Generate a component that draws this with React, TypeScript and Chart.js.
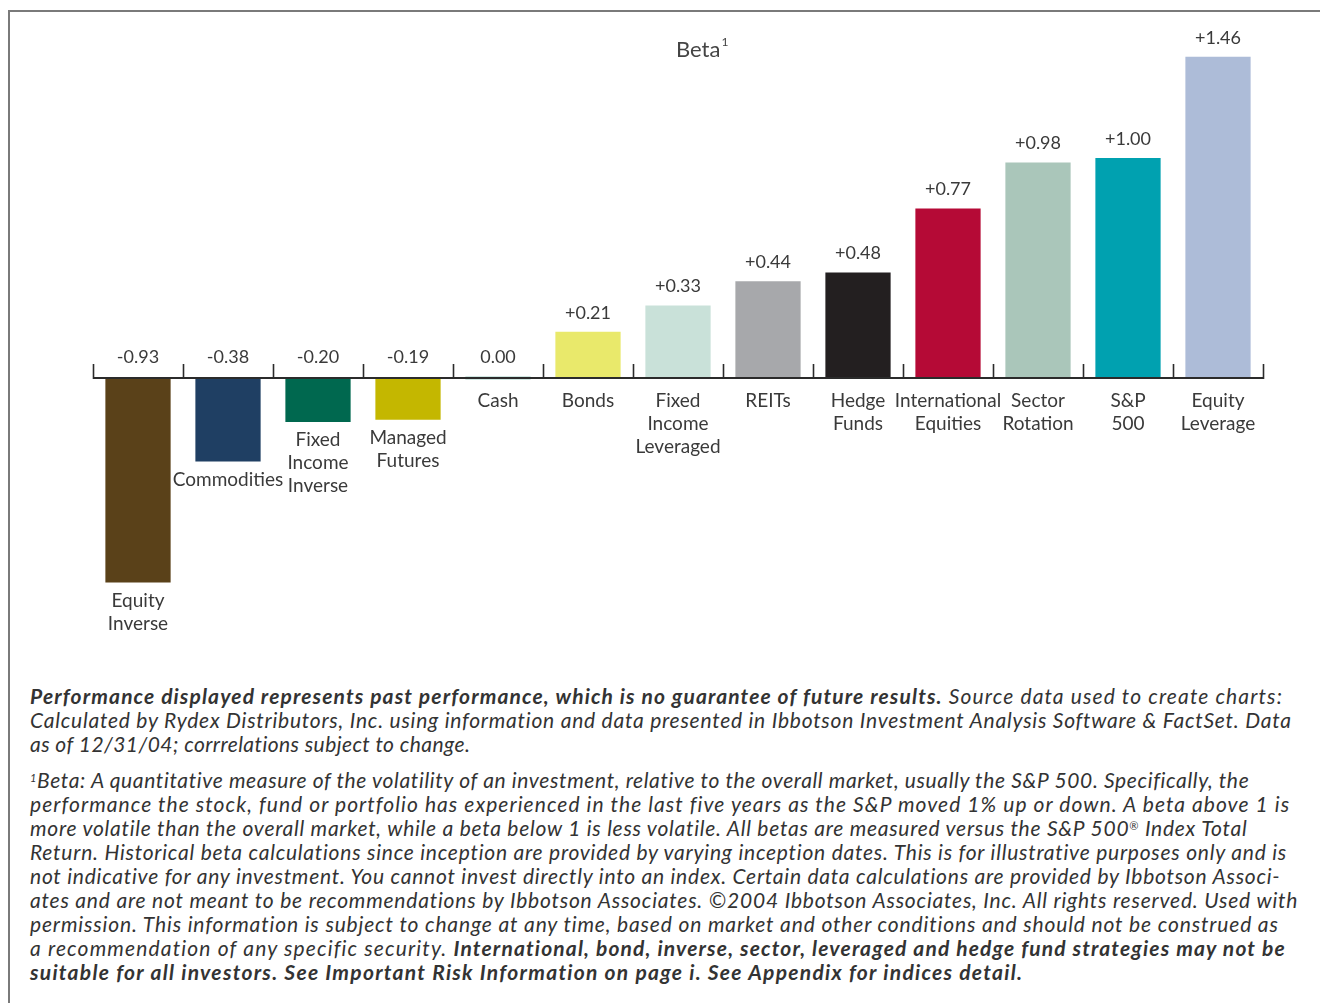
import React, { useEffect, useLayoutEffect, useRef } from "react";
import { Chart, registerables } from "chart.js";

Chart.register(...registerables);

const categories: string[][] = [
  ["Equity", "Inverse"],
  ["Commodities"],
  ["Fixed", "Income", "Inverse"],
  ["Managed", "Futures"],
  ["Cash"],
  ["Bonds"],
  ["Fixed", "Income", "Leveraged"],
  ["REITs"],
  ["Hedge", "Funds"],
  ["International", "Equities"],
  ["Sector", "Rotation"],
  ["S&P", "500"],
  ["Equity", "Leverage"],
];

const betaValues = [-0.93, -0.38, -0.2, -0.19, 0.0, 0.21, 0.33, 0.44, 0.48, 0.77, 0.98, 1.0, 1.46];

const valueLabels = ["-0.93", "-0.38", "-0.20", "-0.19", "0.00", "+0.21", "+0.33", "+0.44", "+0.48", "+0.77", "+0.98", "+1.00", "+1.46"];

const barColors = [
  "#5a4119",
  "#1f3f63",
  "#00684f",
  "#c4b700",
  "#a3d0c6",
  "#e9e96b",
  "#c9e1d9",
  "#a7a8ab",
  "#231f20",
  "#b50a36",
  "#aac6ba",
  "#00a1b0",
  "#adbcd8",
];

// right edges of each footnote line in the reference (for width fitting)
const para1Ends = [1283, 1291, 470];
const para2Ends = [1248, 1289, 1247, 1286, 1280, 1298, 1278, 1285, 1023];

const FONT = "Lato, 'Noto Sans', sans-serif";
const TEXT = "#3a3a3a";

const overlayPlugin = {
  id: "betaOverlay",
  afterDatasetsDraw(chart: any) {
    const ctx = chart.ctx;
    const x = chart.scales.x;
    const y = chart.scales.y;
    const zeroY = y.getPixelForValue(0);
    const n = categories.length;
    const step = n > 1 ? x.getPixelForValue(1) - x.getPixelForValue(0) : 90;
    ctx.save();
    const left = x.getPixelForValue(0) - step / 2;
    const right = x.getPixelForValue(n - 1) + step / 2;
    ctx.strokeStyle = "#2b2b2b";
    ctx.lineWidth = 2;
    ctx.beginPath();
    ctx.moveTo(left, zeroY);
    ctx.lineTo(right, zeroY);
    ctx.stroke();
    ctx.lineWidth = 1.6;
    for (let i = 0; i <= n; i++) {
      const tx = Math.round(x.getPixelForValue(i) - step / 2) + 0.5;
      ctx.beginPath();
      ctx.moveTo(tx, zeroY + 1);
      ctx.lineTo(tx, zeroY - 14);
      ctx.stroke();
    }
    ctx.fillStyle = TEXT;
    ctx.textAlign = "center";
    ctx.textBaseline = "middle";
    for (let i = 0; i < n; i++) {
      const v = betaValues[i];
      const cx = x.getPixelForValue(i);
      const vy = y.getPixelForValue(v);
      ctx.font = `18px ${FONT}`;
      if (v > 0) {
        ctx.fillText(valueLabels[i], cx, vy - 19);
      } else {
        ctx.fillText(valueLabels[i], cx, zeroY - 21);
      }
      ctx.font = `19px ${FONT}`;
      const startY = v < 0 ? vy + 18 : zeroY + 23;
      categories[i].forEach((line, k) => {
        ctx.fillText(line, cx, startY + k * 23);
      });
    }
    ctx.textAlign = "left";
    ctx.textBaseline = "alphabetic";
    ctx.fillStyle = "#444";
    ctx.font = `22px ${FONT}`;
    ctx.fillText("Beta", 676, 57);
    const w = ctx.measureText("Beta").width;
    ctx.font = `12px ${FONT}`;
    ctx.fillText("1", 676 + w + 1, 46);
    ctx.restore();
  },
};

function BetaChart() {
  const ref = useRef<HTMLCanvasElement | null>(null);
  useEffect(() => {
    if (!ref.current) return;
    const chart = new Chart(ref.current, {
      type: "bar",
      data: {
        labels: categories.map((c) => c.join(" ")),
        datasets: [
          {
            data: betaValues,
            backgroundColor: barColors,
            borderWidth: 0,
            barPercentage: 0.725,
            categoryPercentage: 1,
            minBarLength: 3,
          },
        ],
      },
      options: {
        animation: false,
        responsive: false,
        devicePixelRatio: 1,
        layout: { padding: { left: 93, right: 57, top: 26, bottom: 18 } },
        plugins: {
          legend: { display: false },
          tooltip: { enabled: false },
          title: { display: false },
        },
        scales: {
          x: { display: false },
          y: { display: false, min: -1.2, max: 1.6 },
        },
      },
      plugins: [overlayPlugin],
    });
    return () => chart.destroy();
  }, []);
  return (
    <canvas
      ref={ref}
      width={1320}
      height={660}
      style={{ position: "absolute", left: 0, top: 0, width: 1320, height: 660 }}
    />
  );
}

const supStyle: React.CSSProperties = { fontSize: 11, verticalAlign: "6px", lineHeight: 0 };

const para1: React.ReactNode[] = [
  <>
    <b>Performance displayed represents past performance, which is no guarantee of future results.</b> Source data used to create charts:
  </>,
  <>Calculated by Rydex Distributors, Inc. using information and data presented in Ibbotson Investment Analysis Software &amp; FactSet. Data</>,
  <>as of 12/31/04; corrrelations subject to change.</>,
];

const para2: React.ReactNode[] = [
  <>
    <sup style={supStyle}>1</sup>Beta: A quantitative measure of the volatility of an investment, relative to the overall market, usually the S&amp;P 500. Specifically, the
  </>,
  <>performance the stock, fund or portfolio has experienced in the last five years as the S&amp;P moved 1% up or down. A beta above 1 is</>,
  <>
    more volatile than the overall market, while a beta below 1 is less volatile. All betas are measured versus the S&amp;P 500
    <sup style={supStyle}>®</sup> Index Total
  </>,
  <>Return. Historical beta calculations since inception are provided by varying inception dates. This is for illustrative purposes only and is</>,
  <>not indicative for any investment. You cannot invest directly into an index. Certain data calculations are provided by Ibbotson Associ-</>,
  <>ates and are not meant to be recommendations by Ibbotson Associates. ©2004 Ibbotson Associates, Inc. All rights reserved. Used with</>,
  <>permission. This information is subject to change at any time, based on market and other conditions and should not be construed as</>,
  <>
    a recommendation of any specific security. <b>International, bond, inverse, sector, leveraged and hedge fund strategies may not be</b>
  </>,
  <>
    <b>suitable for all investors. See Important Risk Information on page i. See Appendix for indices detail.</b>
  </>,
];

const TEXT_LEFT = 30;

function FittedLine({ children, end }: { children: React.ReactNode; end: number }) {
  const ref = useRef<HTMLSpanElement | null>(null);
  useLayoutEffect(() => {
    const el = ref.current;
    if (!el) return;
    el.style.letterSpacing = "0px";
    const w = el.getBoundingClientRect().width;
    const chars = (el.textContent || "").length;
    const target = end - TEXT_LEFT;
    if (chars > 0) {
      el.style.letterSpacing = `${(target - w) / chars}px`;
    }
  }, [end]);
  return (
    <div style={{ whiteSpace: "nowrap", height: 24 }}>
      <span ref={ref} style={{ display: "inline-block" }}>
        {children}
      </span>
    </div>
  );
}

export default function App() {
  return (
    <div style={{ position: "absolute", left: 0, top: 0, width: 1320, height: 1003, overflow: "hidden", background: "#fff" }}>
      <div
        style={{
          position: "absolute",
          left: 8,
          top: 10,
          width: 1312,
          height: 993,
          borderLeft: "2px solid #7a7a7a",
          borderTop: "2px solid #7a7a7a",
          boxSizing: "border-box",
        }}
      />
      <BetaChart />
      <div
        style={{
          position: "absolute",
          left: TEXT_LEFT,
          top: 684,
          fontFamily: FONT,
          fontStyle: "italic",
          fontSize: 21,
          lineHeight: "24px",
          color: "#333",
        }}
      >
        {para1.map((l, i) => (
          <FittedLine key={"a" + i} end={para1Ends[i]}>
            {l}
          </FittedLine>
        ))}
        <div style={{ height: 12 }} />
        {para2.map((l, i) => (
          <FittedLine key={"b" + i} end={para2Ends[i]}>
            {l}
          </FittedLine>
        ))}
      </div>
    </div>
  );
}
